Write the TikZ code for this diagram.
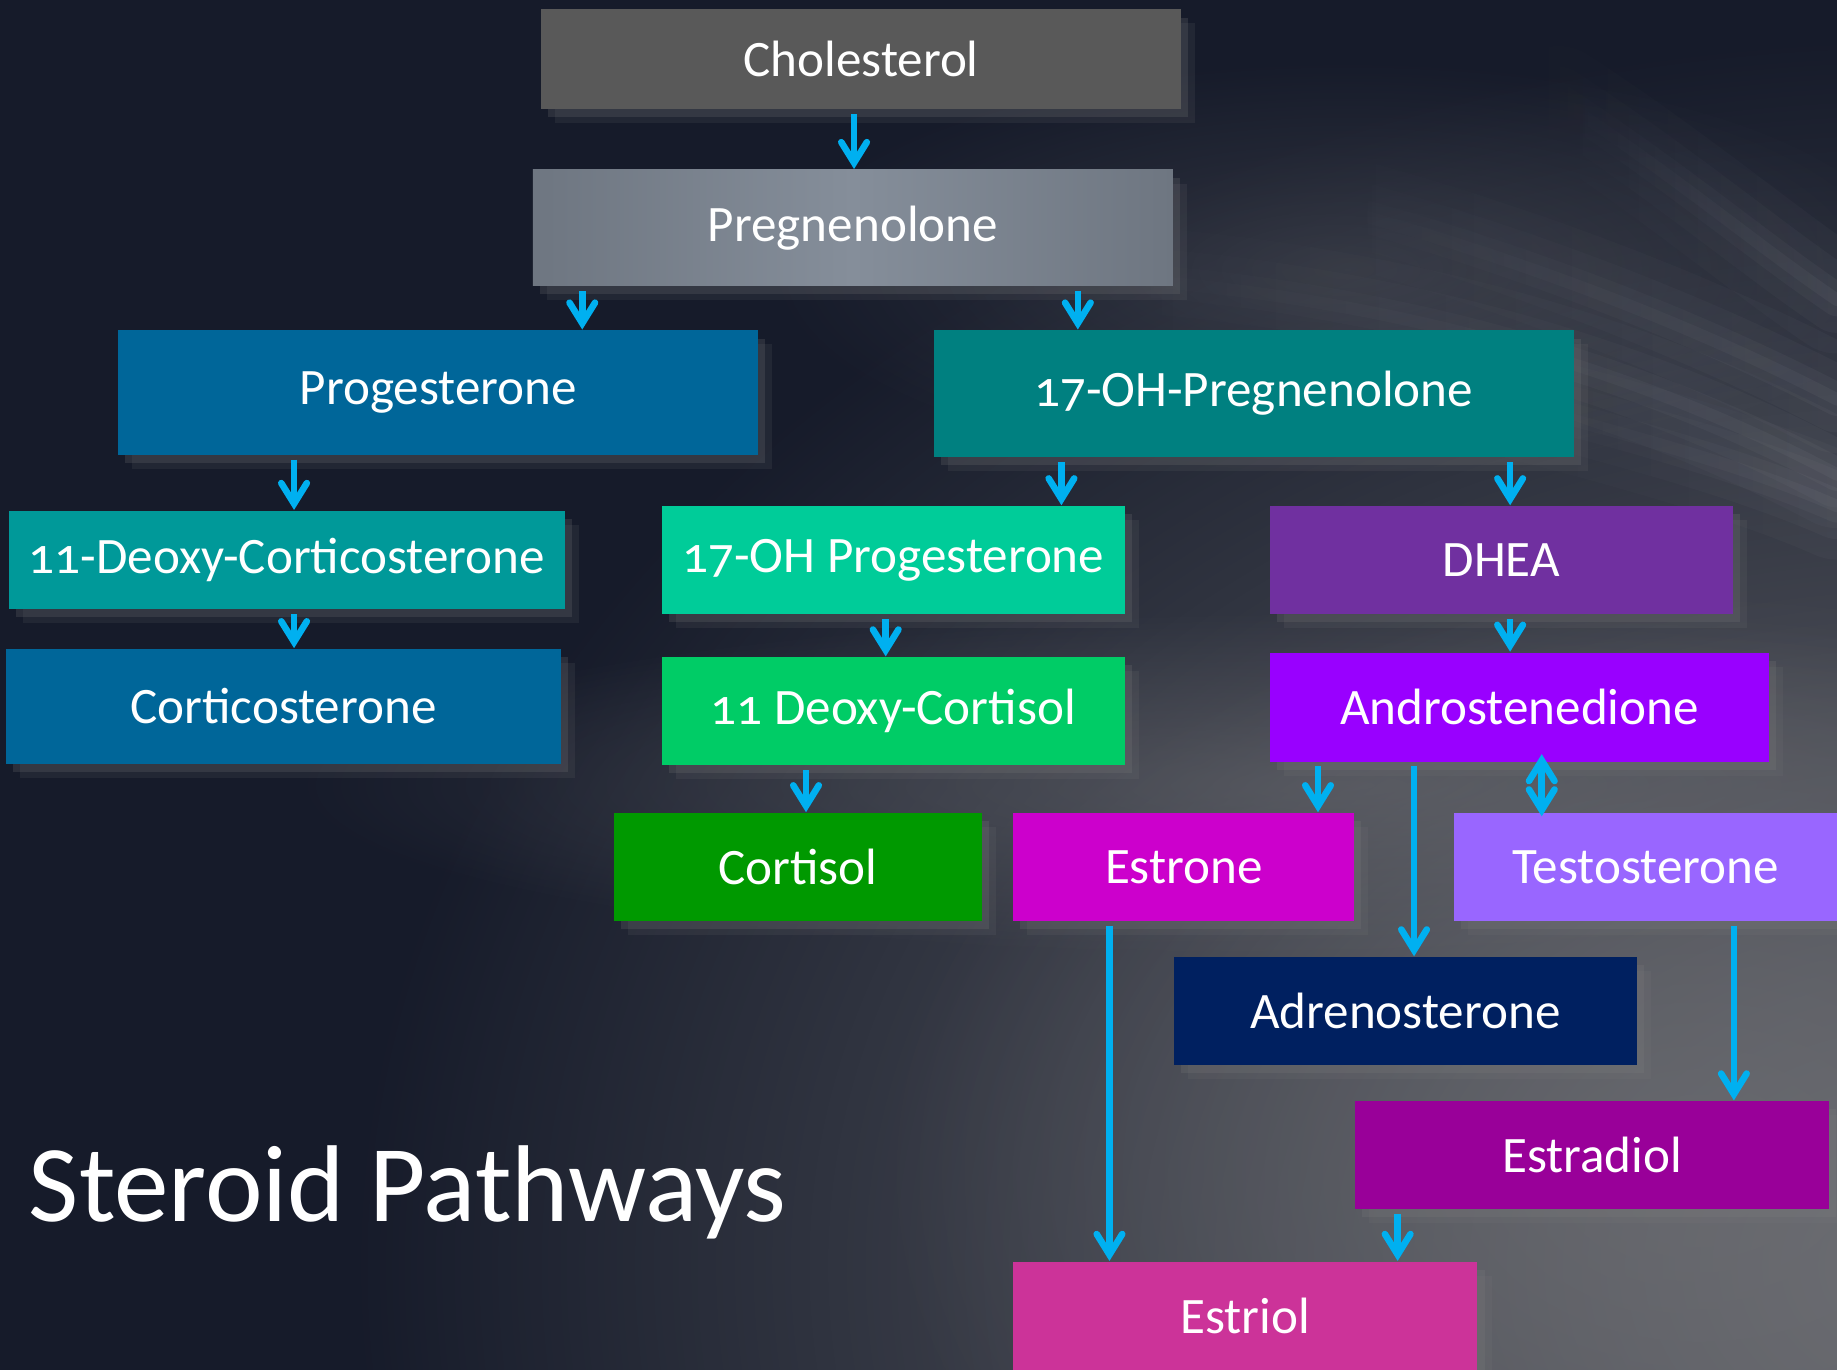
\documentclass[tikz,border=0pt]{standalone}
\usepackage{fontspec}
\setmainfont[Numbers=OldStyle]{Carlito}
\usepackage{tikz}
\usetikzlibrary{arrows.meta,shadows,fadings}

\definecolor{bgdark}{HTML}{161B2A}
\definecolor{bggrey}{HTML}{6C6D72}
\definecolor{streakgrey}{HTML}{A0A2A8}
\definecolor{flowblue}{HTML}{00B0F0}
\definecolor{cholgrey}{HTML}{595959}
\definecolor{pregA}{HTML}{6E7681}
\definecolor{pregB}{HTML}{858E9A}
\definecolor{progblue}{HTML}{006699}
\definecolor{ohteal}{HTML}{008080}
\definecolor{docteal}{HTML}{009999}
\definecolor{ohprogmint}{HTML}{00CC99}
\definecolor{dcortgreen}{HTML}{00CC66}
\definecolor{cortgreen}{HTML}{009900}
\definecolor{dheapurple}{HTML}{7030A0}
\definecolor{andropurple}{HTML}{9900FF}
\definecolor{estronemag}{HTML}{CC00CC}
\definecolor{testolilac}{HTML}{9966FF}
\definecolor{adrenonavy}{HTML}{002060}
\definecolor{estradiolplum}{HTML}{990099}
\definecolor{estriolpink}{HTML}{CC3399}

\newcommand{\boxfont}{\fontsize{12.4}{15}\selectfont}

% soft round haze for the backdrop
\tikzfading[name=haze, inner color=transparent!0, outer color=transparent!100]

\tikzset{
  chem/.style={inner sep=0pt, minimum height=0.92cm, text=white, font=\boxfont,
    drop shadow={opacity=0.12, shadow xshift=1.2mm, shadow yshift=-1.2mm},
    drop shadow={opacity=0.2, shadow xshift=0.6mm, shadow yshift=-0.7mm}},
  barb/.tip={Straight Barb[length=5pt,width=6.2pt,line cap=round]},
  flow/.style={flowblue, line width=1.6pt, shorten <=1pt, -barb},
  streak/.style={streakgrey, line cap=round, path fading=west},
}

\begin{document}
\begin{tikzpicture}[x=0.01cm,y=-0.01cm]
\useasboundingbox (0,0) rectangle (1568,1169);
\fill[bgdark] (0,0) rectangle (1568,1169);
% grey haze
\fill[bggrey, path fading=haze] (1650,1080) ellipse (1350 and 1050);
\fill[bggrey, opacity=0.7, path fading=haze] (1450,1000) ellipse (700 and 500);
\fill[bggrey, opacity=0.5, path fading=haze] (1150,670) ellipse (900 and 150);
\fill[bggrey, opacity=0.3, path fading=haze] (1150,230) ellipse (500 and 180);
% streaks
\foreach \w/\o in {26/0.05, 16/0.06, 8/0.07, 3/0.08} {
  \draw[streak, line width=\w pt, opacity=\o] (900,235) .. controls (1150,245) and (1380,305) .. (1568,405);
  \draw[streak, line width=\w pt, opacity=\o] (1115,171) .. controls (1300,220) and (1450,280) .. (1568,341);
  \draw[streak, line width=\w pt, opacity=\o] (1330,85) .. controls (1430,150) and (1500,210) .. (1568,256);
  \draw[streak, line width=\w pt, opacity=\o] (1250,335) .. controls (1400,372) and (1500,402) .. (1568,432);
}

% boxes
\node[chem, fill=cholgrey, minimum width=5.46cm, minimum height=0.85cm] (chol) at (735,50.5) {Cholesterol};
\node[chem, left color=pregA, right color=pregA, middle color=pregB, minimum width=5.46cm, minimum height=0.99cm] (preg) at (728,194.5) {Pregnenolone};
\node[chem, fill=progblue, minimum width=5.46cm, minimum height=1.06cm] (prog) at (374,335) {Progesterone};
\node[chem, fill=ohteal, minimum width=5.46cm, minimum height=1.08cm] (ohpreg) at (1070,336) {17-OH-Pregnenolone};
\node[chem, fill=docteal, minimum width=4.74cm, minimum height=0.84cm] (doc) at (245,478) {11-Deoxy-Corticosterone};
\node[chem, fill=progblue, minimum width=4.74cm, minimum height=0.98cm] (cortico) at (242,603) {Corticosterone};
\node[chem, fill=ohprogmint, minimum width=3.95cm] (ohprog) at (762.5,478) {17-OH Progesterone};
\node[chem, fill=dheapurple, minimum width=3.95cm] (dhea) at (1281.5,478) {DHEA};
\node[chem, fill=dcortgreen, minimum width=3.95cm] (dcort) at (762.5,607) {11 Deoxy-Cortisol};
\node[chem, fill=andropurple, minimum width=4.26cm, minimum height=0.93cm] (andro) at (1297,603.5) {Androstenedione};
\node[chem, fill=cortgreen, minimum width=3.14cm] (cortisol) at (681,740) {Cortisol};
\node[chem, fill=estronemag, minimum width=2.91cm] (estrone) at (1010.5,740) {Estrone};
\node[chem, fill=testolilac, minimum width=3.27cm] (testo) at (1404.5,740) {Testosterone};
\node[chem, fill=adrenonavy, minimum width=3.95cm] (adreno) at (1199.5,863) {Adrenosterone};
\node[chem, fill=estradiolplum, minimum width=4.04cm] (estradiol) at (1359,986) {Estradiol};
\node[chem, fill=estriolpink, minimum width=3.96cm] (estriol) at (1063,1123) {Estriol};

\node[text=white, font=\fontsize{26.5}{32}\selectfont, anchor=base west, inner sep=0pt] (title) at (24,1043) {Steroid Pathways};

% arrows
\draw[flow] (chol.south -| 729,0) -- (preg.north -| 729,0);
\draw[flow] (preg.south -| 497,0) -- (prog.north -| 497,0);
\draw[flow] (preg.south -| 920,0) -- (ohpreg.north -| 920,0);
\draw[flow] (prog.south -| 251,0) -- (doc.north -| 251,0);
\draw[flow] (doc.south -| 251,0) -- (cortico.north -| 251,0);
\draw[flow] (ohpreg.south -| 906,0) -- (ohprog.north -| 906,0);
\draw[flow] (ohpreg.south -| 1289,0) -- (dhea.north -| 1289,0);
\draw[flow] (ohprog.south -| 756,0) -- (dcort.north -| 756,0);
\draw[flow] (dcort.south -| 688,0) -- (cortisol.north -| 688,0);
\draw[flow] (dhea.south -| 1289,0) -- (andro.north -| 1289,0);
\draw[flow] (andro.south -| 1125,0) -- (estrone.north -| 1125,0);
\draw[flow] (andro.south -| 1207,0) -- (adreno.north -| 1207,0);
\draw[flow, barb-barb, shorten <=-2pt, shorten >=-1pt] (andro.south -| 1316,0) -- (testo.north -| 1316,0);
\draw[flow] (estrone.south -| 947,0) -- (estriol.north -| 947,0);
\draw[flow] (testo.south -| 1480,0) -- (estradiol.north -| 1480,0);
\draw[flow] (estradiol.south -| 1193,0) -- (estriol.north -| 1193,0);
\end{tikzpicture}
\end{document}
